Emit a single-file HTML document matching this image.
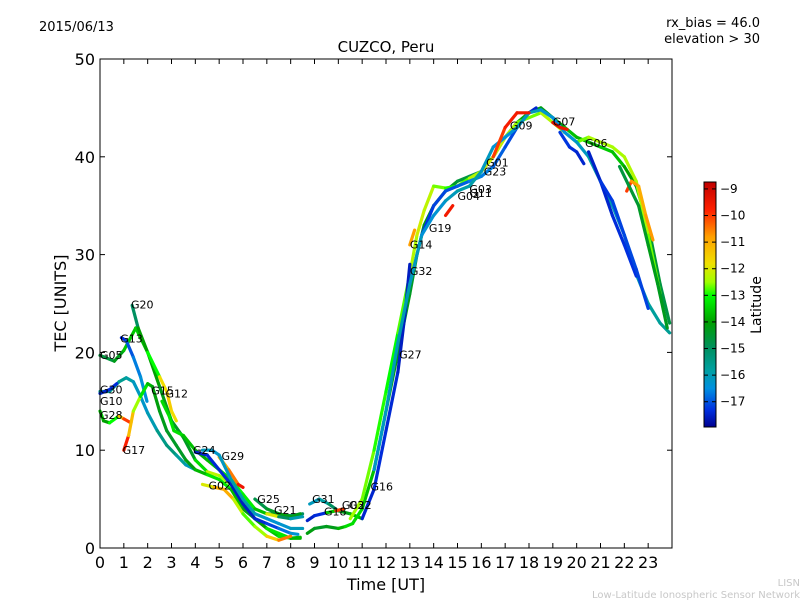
<!DOCTYPE html>
<html><head><meta charset="utf-8"><style>
body{margin:0;background:#fff;}
svg{font-family:"DejaVu Sans","Liberation Sans",sans-serif;}
</style></head><body>
<svg id="chart" width="800" height="600" viewBox="0 0 800 600" xmlns="http://www.w3.org/2000/svg">
<defs>
<linearGradient id="cbgrad" x1="0" y1="1" x2="0" y2="0">
<stop offset="0" stop-color="#000090"/>
<stop offset="0.0706" stop-color="#0030e0"/>
<stop offset="0.1574" stop-color="#0090e0"/>
<stop offset="0.2334" stop-color="#00a0a0"/>
<stop offset="0.3203" stop-color="#009060"/>
<stop offset="0.4289" stop-color="#00a000"/>
<stop offset="0.5374" stop-color="#00ff00"/>
<stop offset="0.5917" stop-color="#a0ff00"/>
<stop offset="0.6677" stop-color="#f0e000"/>
<stop offset="0.7763" stop-color="#ffa000"/>
<stop offset="0.8849" stop-color="#ff2000"/>
<stop offset="1" stop-color="#c00000"/>
</linearGradient>
</defs>
<text x="39" y="31" font-size="13">2015/06/13</text>
<text x="760" y="27" font-size="13" text-anchor="end">rx_bias = 46.0</text>
<text x="760" y="43" font-size="13" text-anchor="end">elevation &gt; 30</text>
<text x="386" y="52" font-size="15" text-anchor="middle">CUZCO, Peru</text>
<g id="marks"></g>
<rect x="100" y="59" width="572" height="489" fill="none" stroke="#000" stroke-width="1"/>
<g id="axes"></g>
<text x="386" y="590" font-size="16" text-anchor="middle">Time [UT]</text>
<text x="66" y="303" font-size="16" text-anchor="middle" transform="rotate(-90 66 303)">TEC [UNITS]</text>
<rect x="704" y="182" width="12" height="245" fill="url(#cbgrad)" stroke="#000" stroke-width="1"/>
<g id="cbaxis"></g>
<text x="761" y="305" font-size="14" text-anchor="middle" transform="rotate(-90 761 305)">Latitude</text>
<text x="800" y="586" font-size="10" fill="#c8c8c8" text-anchor="end">LISN</text>
<text x="800" y="598" font-size="10" fill="#c8c8c8" text-anchor="end">Low-Latitude Ionospheric Sensor Network</text>
</svg>
<script>
const xTicks=[0,1,2,3,4,5,6,7,8,9,10,11,12,13,14,15,16,17,18,19,20,21,22,23];
const yTicks=[0,10,20,30,40,50];
const cbTicks=[-9,-10,-11,-12,-13,-14,-15,-16,-17];
const trackTimes=[
[0,0.6,1.0,1.5,2,2.5,3,3.5,4,4.5,5,5.5,6,6.5,7,7.5,8,8.4],
[1.35,1.6,2,2.5,2.8,3,3.2],
[0.9,1.1,1.4,1.7,1.97],
[0,0.4,0.8,1.1,1.4,1.7,2,2.4,2.8,3.2,3.6,4],
[0,0.4,0.7],
[0,0.15,0.4,0.8,1.0,1.3],
[1.0,1.2,1.4,1.7,2.0,2.2],
[2.2,2.5,2.8,3.2,3.6,4,4.5,5,5.5,6,6.5,7,7.5,8,8.4],
[2.6,2.9,3.1,3.5,4,4.5,5,5.5,6,6.5,7,7.5,8,8.5],
[4,4.5,5,5.5,6,6.5,7,7.5,8,8.3],
[5,5.4,5.8,6],
[4.3,4.8,5.2,5.6,6,6.5,7,7.5,8],
[4.3,4.7,5,5.5,6,6.5,7,7.5,8,8.5],
[6.5,7,7.5,8,8.4],
[7,7.5,8,8.5],
[8.8,9.2,9.6,10,10.5,11],
[8.7,9,9.5,9.9,10.2],
[8.7,9,9.5,10,10.3,10.6,11,11.5,12,12.5,13,13.3,13.6,14,14.5,15,15.5,16,16.5,17,17.5,18,18.5,19,19.5,20,20.5,21,21.5,22,22.5,23,23.5,23.9],
[10.5,11,11.5,12,12.5,13,13.3,13.6,14,14.5,15,15.5,16,16.5,17,17.5,18,18.5,19,19.5,20,20.5,21,21.5,22,22.5,23,23.5],
[11,11.5,12,12.5,12.8,13],
[13.5,14,14.5,15,15.5,16,16.5,17,17.5,18,18.3],
[11.5,12,12.5,13,13.5,14,14.5,15,15.5,16,16.5,17,17.5,18,18.5,19,19.5,20,20.5,21,21.5,22,22.5,23,23.5,23.9],
[20.5,21,21.5,22,22.5],
[21,21.5,22,22.5,23],
[19.3,19.7,20,20.3],
[22.1,22.3,22.6,22.9,23.2],
[21.8,22.2,22.6,23,23.4,23.8],
[16.5,17,17.5,18],
[14.5,14.8],
[13,13.2],
[19,19.3,19.6]
];
const trackTec=[
[19.7,19.1,20.2,22.5,20,16.5,13,11.3,9,7.8,7.4,6.5,4.5,3,2,1.2,1,1.1],
[24.8,22.5,20,17.5,16,14,13],
[21.5,21.2,19.5,17.5,15],
[16,16,17,17.4,17,15.5,13.8,12,10.5,9.5,8.5,8],
[15.8,16.2,16.8],
[14,13,12.8,13.5,13.2,12.8],
[10,11.5,14,15.5,16.8,16.5],
[16.5,14,12,10.5,9,8,7.5,7,6,4,3,2,1.5,1,1],
[15,13.5,12,11.5,10,9,8,7,5.5,4,3.5,3.4,3.3,3.5],
[9.8,9.5,8,6.5,4.5,3,2.5,2,1.5,1.4],
[9.3,8,6.5,6.2],
[6.5,6.2,6,5,3.5,2.2,1.2,0.8,1.2],
[10,10,9.5,7,5,3.5,3,2.5,2,2],
[5,4,3.5,3.2,3.5],
[3.5,3.2,3,3.2],
[4.5,5,4.5,3.8,3.5,3],
[2.8,3.3,3.6,3.8,4],
[1.5,2,2.2,2,2.2,2.5,4,8,14,20,26,30,33,35,36.5,37.5,38,38.5,40,42,43.5,44.5,45,44,43,42,41.5,41,40.5,39,37,33,27,23],
[3,5,10,16,22,28,32,34.5,37,36.8,37,37.8,38.5,40,42,43.5,44,44.5,43.5,42.5,41.5,42,41.5,41,40,37.5,32,26],
[3,6,12,18,24,29],
[32,35,36.5,37,37.5,38,39,41,43,44.5,45],
[8,14,21,27,32,34,35.5,36.5,37,38.5,41,42,43,44.5,44.8,44,42.5,41.5,40,37.5,35,32,28,25,23,22],
[40.5,37.5,34,31,27.8],
[37.5,35.5,32,28.5,24.5],
[42.5,41,40.5,39.3],
[36.5,37.5,37,34,31.5],
[39,37,35,31,27,22.5],
[40,43,44.5,44.5],
[34,35],
[31,32.5],
[43.5,43,42.8]
];
const trackLat=[
[-14.8,-14.5,-14,-13.2,-13.8,-14.2,-14.3,-14.5,-14.2,-12.5,-12,-13,-14,-14.5,-14.3,-13,-13.5,-13.8],
[-15.5,-14.5,-13.5,-12.5,-11,-12,-11.5],
[-17.5,-17.2,-16.8,-16.5,-16.3],
[-15.8,-15.6,-15.5,-15.7,-16,-16.3,-16.2,-15.8,-15.2,-15.5,-16,-16.2],
[-17.5,-17.4,-17.3],
[-13,-14,-14,-12,-10.5,-9.5],
[-9,-10.5,-12,-13,-13.5,-14],
[-14,-14.2,-14.3,-14.5,-14.3,-14,-13.5,-13,-13.5,-14,-14.5,-13.5,-13,-13.5,-14],
[-13.5,-13.3,-13.2,-13.5,-13.8,-14,-13.5,-13,-13,-13.3,-14,-14.5,-15,-15],
[-17.5,-17.5,-17.3,-17.5,-17.6,-17.5,-17.3,-17,-16.5,-16.2],
[-11,-11,-10,-9],
[-12,-12,-10,-12,-12.5,-13,-12,-11,-10],
[-16,-16.2,-16.3,-16,-15.8,-16,-16.3,-16.4,-16.2,-16],
[-15,-14.5,-14.3,-14,-14.5],
[-10,-14,-16,-16],
[-16,-16.2,-15.5,-14.5,-14,-13.5],
[-17.5,-17.5,-17.2,-10,-10],
[-14,-14.3,-14.5,-14,-13.5,-13.2,-13.5,-13.8,-14,-14.2,-14.3,-14.5,-14.2,-14,-14.3,-14.5,-14.8,-15,-14.6,-14.2,-14,-13.8,-14,-14.4,-13.8,-13.5,-14,-13.6,-13.5,-13.8,-14.2,-14.5,-14.6,-14.8],
[-12.5,-12.5,-12.8,-13,-13,-12.5,-12.2,-12,-12.5,-12.8,-13,-12.5,-12.2,-12,-12.3,-12.5,-12.8,-12.5,-12.2,-12.5,-12.8,-12.5,-12.3,-12.5,-12.4,-12.3,-12.5,-12.8],
[-17.5,-17.4,-17.3,-17.5,-17.6,-17.5],
[-17.3,-17.2,-17.1,-17,-16.8,-16.5,-16.8,-17,-17.2,-17.4,-17.5],
[-16.2,-16.2,-16,-16,-16.3,-16.5,-16.2,-16,-15.8,-16,-16.3,-16.5,-16.3,-16,-16.2,-16.4,-16.5,-16.3,-16,-15.8,-16,-16.2,-16,-15.8,-15.7,-15.6],
[-17.5,-17.5,-17.4,-17.3,-17.3],
[-17.3,-17.2,-17.1,-17.1,-17.2],
[-17.2,-17.3,-17.4,-17.5],
[-9.5,-10.5,-11,-11,-10.5],
[-14.7,-14.6,-14.5,-14.3,-14.2,-14.4],
[-10.2,-9.8,-9.5,-9.6],
[-9.6,-9.6],
[-10.8,-10.8],
[-9.3,-9.4,-9.6]
];
const labelNames=["G20","G13","G05","G30","G10","G28","G17","G15","G12","G24","G29","G02","G25","G21","G31","G18","G03","G22","G16","G27","G32","G14","G19","G04","G11","G03","G23","G01","G09","G07","G06"];
const labelTimes=[1.3,0.85,0,0,0,0,0.95,2.15,2.75,3.9,5.1,4.55,6.6,7.3,8.9,9.4,10.15,10.45,11.35,12.55,13.0,13.0,13.8,15.0,15.5,15.5,16.1,16.2,17.2,19.0,20.35];
const labelTec=[24.5,21.0,19.3,15.8,14.6,13.2,9.6,15.7,15.4,9.6,9.0,6.0,4.6,3.5,4.6,3.3,4.0,4.0,5.9,19.4,27.9,30.6,32.3,35.6,35.9,36.3,38.1,39.0,42.8,43.2,41.0];
const X=t=>100+t*572/24;
const Y=v=>548-v*489/50;
const cstops=[[-8.74,[192,0,0]],[-9.8,[255,32,0]],[-10.8,[255,160,0]],[-11.8,[240,224,0]],[-12.5,[160,255,0]],[-13,[0,255,0]],[-14,[0,160,0]],[-15,[0,144,96]],[-15.8,[0,160,160]],[-16.5,[0,144,224]],[-17.3,[0,48,224]],[-17.95,[0,0,144]]];
function col(l){
  if(l>=cstops[0][0])return 'rgb(192,0,0)';
  for(let i=0;i<cstops.length-1;i++){
    const a=cstops[i],b=cstops[i+1];
    if(l<=a[0]&&l>=b[0]){const f=(a[0]-l)/(a[0]-b[0]);
      const c=a[1].map((v,k)=>Math.round(v+(b[1][k]-v)*f));return 'rgb('+c.join(',')+')';}
  }
  return 'rgb(0,0,144)';
}
const NS='http://www.w3.org/2000/svg';
const marks=document.getElementById('marks');
function mk(tag,attrs,parent){const e=document.createElementNS(NS,tag);for(const k in attrs)e.setAttribute(k,attrs[k]);parent.appendChild(e);return e;}
for(let i=0;i<trackTimes.length;i++){
  const g=mk('g',{},marks);
  
  
  const t=trackTimes[i],v=trackTec[i],l=trackLat[i];
  for(let j=0;j<t.length-1;j++){
    const c=col((l[j]+l[j+1])/2);
    const ln=mk('line',{x1:X(t[j]),y1:Y(v[j]),x2:X(t[j+1]),y2:Y(v[j+1]),stroke:c,'stroke-width':3.2,'stroke-linecap':'round'},g);
    
    
  }
}
for(let i=0;i<labelNames.length;i++){
  const tx=mk('text',{x:X(labelTimes[i]),y:Y(labelTec[i]),'font-size':11},marks);
  tx.textContent=labelNames[i];
  
  
}
const axes=document.getElementById('axes');
xTicks.forEach(t=>{
  mk('line',{x1:X(t),y1:548,x2:X(t),y2:543,stroke:'#000'},axes);
  mk('line',{x1:X(t),y1:59,x2:X(t),y2:64,stroke:'#000'},axes);
  const tx=mk('text',{x:X(t),y:568,'font-size':16,'text-anchor':'middle'},axes);
  tx.textContent=t;
  
  
});
yTicks.forEach(v=>{
  mk('line',{x1:100,y1:Y(v),x2:105,y2:Y(v),stroke:'#000'},axes);
  mk('line',{x1:672,y1:Y(v),x2:667,y2:Y(v),stroke:'#000'},axes);
  const tx=mk('text',{x:95,y:Y(v)+6,'font-size':16,'text-anchor':'end'},axes);
  tx.textContent=v;
  
  
});
const cb=document.getElementById('cbaxis');
const CY=l=>182+(-8.74-l)*245/9.21;
cbTicks.forEach(l=>{
  mk('line',{x1:704,y1:CY(l),x2:708,y2:CY(l),stroke:'#000'},cb);
  mk('line',{x1:716,y1:CY(l),x2:712,y2:CY(l),stroke:'#000'},cb);
  const tx=mk('text',{x:720,y:CY(l)+4,'font-size':12},cb);
  tx.textContent='\u2212'+Math.abs(l);
  
  
});
</script>
</body></html>
